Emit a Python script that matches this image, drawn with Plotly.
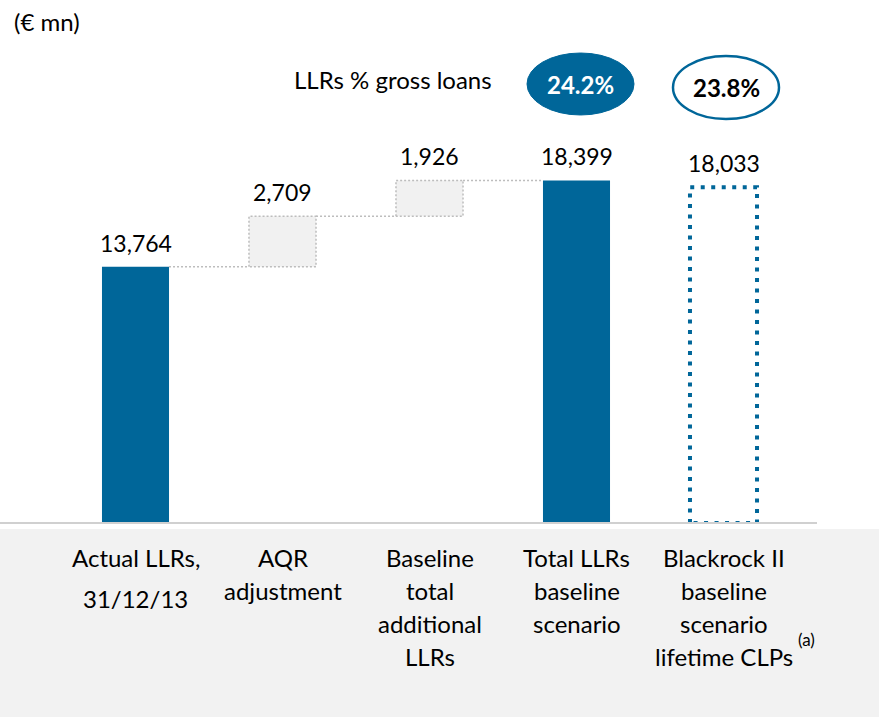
import plotly.graph_objects as go

# ---------------- data ----------------
categories = ["Actual LLRs, 31/12/13", "AQR adjustment", "Baseline total additional LLRs",
              "Total LLRs baseline scenario", "Blackrock II baseline scenario lifetime CLPs"]
cat_lines = [["Actual LLRs,", "31/12/13"],
             ["AQR", "adjustment"],
             ["Baseline", "total", "additional", "LLRs"],
             ["Total LLRs", "baseline", "scenario"],
             ["Blackrock II", "baseline", "scenario", "lifetime CLPs"]]
values = [13764, 2709, 1926, 18399, 18033]
value_labels = ["13,764", "2,709", "1,926", "18,399", "18,033"]
kinds = ["total", "delta", "delta", "total", "compare"]
pct_labels = ["24.2%", "23.8%"]

BLUE = "#006699"
GREY_FILL = "#f1f1f1"
GREY_LINE = "#bdbdbd"
FONT = "Lato, Carlito, 'Open Sans', sans-serif"

W, H = 879, 717
BASE_PX = 523          # pixel row of the baseline
BW = 0.456             # bar width in category units
YMAX = 28090

def py(p):  # pixel row -> paper y
    return (BASE_PX - p) / BASE_PX

def px(p):  # pixel col -> paper x
    return p / W

# compute bases for waterfall
bases, tops = [], []
running = 0
for v, k in zip(values, kinds):
    if k == "total":
        bases.append(0); tops.append(v); running = v
    elif k == "delta":
        bases.append(running); tops.append(running + v); running += v
    else:
        bases.append(0); tops.append(v)

xs = list(range(len(values)))
fig = go.Figure()

for i in xs:
    if kinds[i] == "total":
        fig.add_trace(go.Bar(x=[i], y=[values[i]], base=[bases[i]], width=BW,
                             marker=dict(color=BLUE, line=dict(width=0)), hoverinfo="skip"))
    elif kinds[i] == "delta":
        fig.add_trace(go.Bar(x=[i], y=[values[i]], base=[bases[i]], width=BW,
                             marker=dict(color=GREY_FILL, line=dict(width=0)), hoverinfo="skip"))
        x0, x1 = i - BW / 2, i + BW / 2
        fig.add_trace(go.Scatter(x=[x0, x0, x1, x1, x0], y=[bases[i], tops[i], tops[i], bases[i], bases[i]],
                                 mode="lines", line=dict(color=GREY_LINE, width=1.5, dash="2px,2px"),
                                 hoverinfo="skip"))
    else:
        x0, x1 = i - BW / 2, i + BW / 2
        fig.add_trace(go.Scatter(x=[x0, x0, x1, x1, x0], y=[0, tops[i], tops[i], 0, 0],
                                 mode="lines", line=dict(color=BLUE, width=4, dash="4px,6.5px"),
                                 hoverinfo="skip"))

# connectors
for i in range(3):
    fig.add_trace(go.Scatter(x=[i + BW / 2, i + 1 - BW / 2], y=[tops[i], tops[i]], mode="lines",
                             line=dict(color=GREY_LINE, width=1.5, dash="2px,2px"), hoverinfo="skip"))

annotations = []
# value labels
for i in xs:
    annotations.append(dict(x=i, y=tops[i], xref="x", yref="y", text=value_labels[i], showarrow=False,
                            xanchor="center", yanchor="bottom", yshift=8,
                            font=dict(size=23, color="#000000", family=FONT)))

# category labels (one annotation per line)
line_rows = [[557, 598], [557, 590], [557, 590, 623, 656], [557, 590, 623], [557, 590, 623, 656]]
for i, lines in enumerate(cat_lines):
    for t, r in zip(lines, line_rows[i]):
        annotations.append(dict(x=i, y=py(r), xref="x", yref="paper", text=t, showarrow=False,
                                xanchor="center", yanchor="middle",
                                font=dict(size=24, color="#000000", family=FONT)))
annotations.append(dict(x=px(806), y=py(639), xref="paper", yref="paper", text="(a)", showarrow=False,
                        xanchor="center", yanchor="middle",
                        font=dict(size=17, color="#000000", family=FONT)))

# header texts
annotations.append(dict(x=px(12), y=py(22), xref="paper", yref="paper", text="(€ mn)", showarrow=False,
                        xanchor="left", yanchor="middle", font=dict(size=24, color="#000000", family=FONT)))
annotations.append(dict(x=px(494), y=py(80), xref="paper", yref="paper", text="LLRs % gross loans",
                        showarrow=False, xanchor="right", yanchor="middle",
                        font=dict(size=24, color="#000000", family=FONT)))
annotations.append(dict(x=px(580.5), y=py(84), xref="paper", yref="paper", text="<b>" + pct_labels[0] + "</b>",
                        showarrow=False, xanchor="center", yanchor="middle",
                        font=dict(size=24, color="#ffffff", family=FONT)))
annotations.append(dict(x=px(726), y=py(87.5), xref="paper", yref="paper", text="<b>" + pct_labels[1] + "</b>",
                        showarrow=False, xanchor="center", yanchor="middle",
                        font=dict(size=24, color="#000000", family=FONT)))

shapes = [
    dict(type="rect", xref="paper", yref="paper", x0=0, x1=1, y0=py(529), y1=py(H + 5),
         fillcolor="#f2f2f2", line=dict(width=0), layer="below"),
    dict(type="line", xref="paper", yref="paper", x0=0, x1=px(817), y0=py(523), y1=py(523),
         line=dict(color="#d0d0d0", width=2), layer="above"),
    dict(type="circle", xref="paper", yref="paper", x0=px(527), x1=px(634), y0=py(115), y1=py(53),
         fillcolor=BLUE, line=dict(color=BLUE, width=1)),
    dict(type="circle", xref="paper", yref="paper", x0=px(673), x1=px(779), y0=py(119), y1=py(56),
         fillcolor="#ffffff", line=dict(color=BLUE, width=2.5)),
]

fig.update_layout(
    width=W, height=H,
    margin=dict(l=0, r=0, t=0, b=H - BASE_PX, pad=0),
    paper_bgcolor="#ffffff", plot_bgcolor="#ffffff",
    showlegend=False, barmode="overlay",
    xaxis=dict(range=[-135.5 / 147, (W - 135.5) / 147], visible=False, fixedrange=True),
    yaxis=dict(range=[0, YMAX], visible=False, fixedrange=True),
    annotations=annotations, shapes=shapes,
)

fig.write_html("out.html", config={"displayModeBar": False},
               post_script="document.body.style.margin='0';document.body.style.padding='0';")
